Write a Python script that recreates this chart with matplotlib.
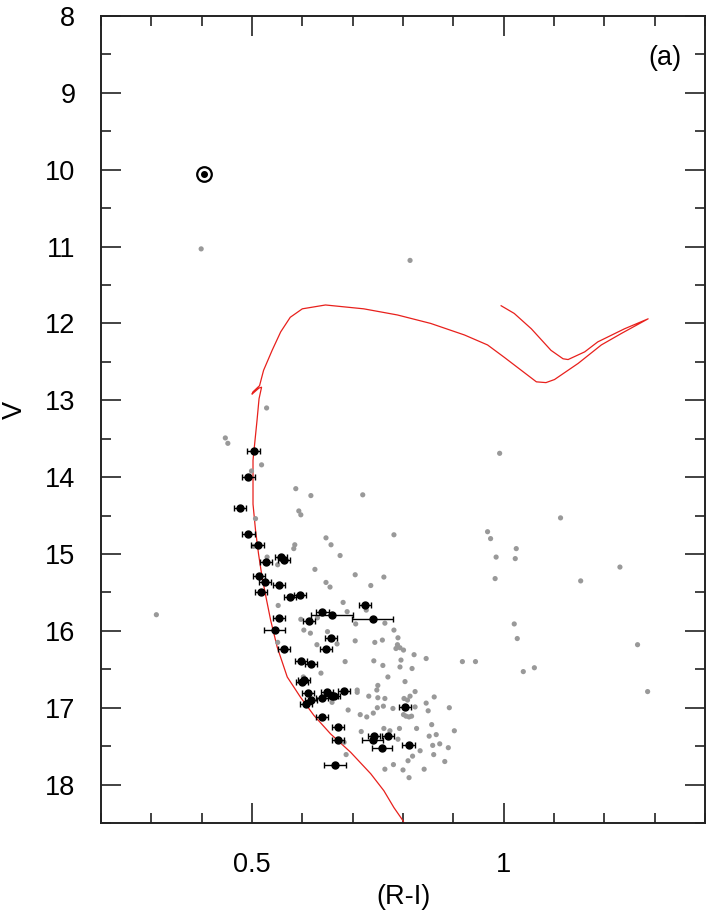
import matplotlib
matplotlib.use("Agg")
import matplotlib.pyplot as plt
from matplotlib.ticker import MultipleLocator

plt.rcParams['font.family'] = ['Liberation Sans', 'DejaVu Sans']

# Field / non-member stars (grey)
gray_ri = [0.399, 0.814, 0.310, 0.529, 0.447, 0.452, 0.519, 0.499, 0.587, 0.617,
           0.720, 0.593, 0.597, 0.507, 0.647, 0.782, 0.657, 0.585, 0.583, 0.503,
           0.675, 0.530, 0.551, 0.625, 0.705, 0.762, 0.647, 0.655, 0.736, 0.552,
           0.681, 0.689, 0.727, 0.630, 0.597, 0.706, 0.764, 0.782, 0.603, 0.616,
           0.650, 0.551, 0.629, 0.669, 0.705, 0.744, 0.759, 0.790, 0.789, 0.794,
           0.801, 0.786, 0.822, 0.796, 0.846, 0.685, 0.742, 0.760, 0.794, 0.818,
           0.637, 0.770, 0.602, 0.804, 0.750, 0.709, 0.709, 0.748, 0.824, 0.862,
           0.732, 0.750, 0.764, 0.802, 0.814, 0.809, 0.659, 0.749, 0.761, 0.780,
           0.824, 0.850, 0.892, 0.691, 0.715, 0.728, 0.741, 0.801, 0.806, 0.812,
           0.817, 0.857, 0.827, 0.762, 0.774, 0.717, 0.793, 0.852, 0.866, 0.790,
           0.683, 0.859, 0.873, 0.890, 0.834, 0.819, 0.861, 0.687, 0.883, 0.810,
           0.781, 0.764, 0.800, 0.842, 0.812, 0.902, 0.846, 0.992, 1.113, 0.968,
           0.974, 1.025, 0.985, 1.023, 1.231, 0.983, 1.153, 1.021, 1.027, 1.266,
           0.918, 0.944, 1.039, 1.061, 1.286]
gray_v = [11.03, 11.18, 15.79, 13.10, 13.49, 13.56, 13.84, 13.92, 14.15, 14.24,
          14.23, 14.44, 14.49, 14.54, 14.79, 14.75, 14.88, 14.88, 14.93, 14.90,
          15.02, 15.04, 15.14, 15.20, 15.27, 15.30, 15.37, 15.43, 15.41, 15.67,
          15.63, 15.75, 15.73, 15.83, 15.85, 15.91, 15.90, 15.99, 15.99, 16.03,
          16.01, 16.15, 16.18, 16.17, 16.13, 16.15, 16.12, 16.09, 16.18, 16.22,
          16.25, 16.23, 16.31, 16.38, 16.36, 16.40, 16.39, 16.45, 16.47, 16.49,
          16.55, 16.60, 16.60, 16.66, 16.71, 16.77, 16.80, 16.77, 16.79, 16.86,
          16.85, 16.87, 16.88, 16.88, 16.85, 16.90, 16.93, 17.00, 16.98, 17.01,
          16.99, 17.04, 17.00, 17.03, 17.09, 17.12, 17.07, 17.09, 17.11, 17.12,
          17.11, 17.22, 17.27, 17.27, 17.30, 17.31, 17.27, 17.37, 17.35, 17.41,
          17.45, 17.49, 17.47, 17.52, 17.56, 17.63, 17.61, 17.61, 17.70, 17.69,
          17.74, 17.80, 17.81, 17.80, 17.91, 17.30, 16.94, 13.69, 14.53, 14.71,
          14.80, 14.93, 15.04, 15.06, 15.17, 15.32, 15.35, 15.91, 16.10, 16.18,
          16.40, 16.40, 16.53, 16.48, 16.79]

# Member stars (black, with (R-I) errors)
mem_ri = [0.503, 0.493, 0.477, 0.493, 0.511, 0.558, 0.563, 0.527, 0.513, 0.525,
          0.553, 0.517, 0.575, 0.595, 0.724, 0.640, 0.659, 0.740, 0.553, 0.613,
          0.545, 0.657, 0.647, 0.563, 0.597, 0.618, 0.599, 0.603, 0.683, 0.611,
          0.649, 0.639, 0.658, 0.662, 0.618, 0.608, 0.804, 0.639, 0.671, 0.670,
          0.742, 0.771, 0.740, 0.759, 0.811, 0.665]
mem_v = [13.66, 14.00, 14.40, 14.74, 14.88, 15.04, 15.08, 15.10, 15.29, 15.37,
         15.40, 15.50, 15.56, 15.53, 15.67, 15.76, 15.79, 15.84, 15.83, 15.87,
         15.99, 16.09, 16.23, 16.24, 16.39, 16.43, 16.66, 16.64, 16.78, 16.81,
         16.79, 16.87, 16.85, 16.85, 16.90, 16.95, 16.99, 17.12, 17.25, 17.42,
         17.37, 17.37, 17.42, 17.52, 17.48, 17.74]
mem_err = [0.012, 0.012, 0.012, 0.012, 0.012, 0.012, 0.012, 0.012, 0.012, 0.012,
           0.012, 0.012, 0.012, 0.012, 0.012, 0.012, 0.041, 0.041, 0.012, 0.012,
           0.021, 0.012, 0.012, 0.012, 0.012, 0.012, 0.012, 0.012, 0.012, 0.012,
           0.012, 0.012, 0.012, 0.012, 0.012, 0.012, 0.012, 0.012, 0.012, 0.012,
           0.012, 0.012, 0.021, 0.020, 0.012, 0.021]

# Sun symbol star
sun_ri = [0.404]
sun_v = [10.05]

# Isochrone
iso_ri = [0.805, 0.800, 0.782, 0.762, 0.736, 0.696, 0.656, 0.623, 0.596, 0.570,
          0.550, 0.537, 0.529, 0.520, 0.513, 0.507, 0.502, 0.502, 0.510, 0.514,
          0.519, 0.514, 0.500, 0.502, 0.515, 0.523, 0.540, 0.557, 0.576, 0.600,
          0.646, 0.722, 0.789, 0.855, 0.922, 0.968, 1.001, 1.035, 1.065, 1.084,
          1.101, 1.148, 1.194, 1.234, 1.287, 1.240, 1.187, 1.161, 1.128, 1.118,
          1.094, 1.055, 1.021, 0.995]
iso_v = [18.55, 18.47, 18.30, 18.08, 17.86, 17.58, 17.34, 17.10, 16.86, 16.60,
         16.21, 15.86, 15.60, 15.30, 15.00, 14.69, 14.35, 13.78, 13.26, 12.98,
         12.83, 12.84, 12.92, 12.89, 12.81, 12.61, 12.35, 12.11, 11.92, 11.81,
         11.76, 11.81, 11.89, 12.00, 12.15, 12.28, 12.44, 12.61, 12.76, 12.77,
         12.73, 12.52, 12.28, 12.13, 11.94, 12.07, 12.24, 12.37, 12.47, 12.46,
         12.35, 12.07, 11.87, 11.77]

fig = plt.figure(figsize=(7.06, 9.13), dpi=100)
ax = fig.add_axes([101/706, 1 - 823/913, 604/706, 807/913])

ax.plot(iso_ri, iso_v, color='#e8201c', lw=0.9, zorder=2)
ax.scatter(gray_ri, gray_v, s=14, color='#999999', edgecolors='none', zorder=3)
ax.errorbar(mem_ri, mem_v, xerr=mem_err, fmt='o', color='black', ms=5,
            elinewidth=1.0, capsize=2, capthick=1.0, zorder=4)
ax.plot(sun_ri, sun_v, 'o', ms=10.5, mfc='white', mec='black', mew=1.6, zorder=5)
ax.plot(sun_ri, sun_v, 'o', ms=4, color='black', zorder=6)

ax.set_xlim(0.2, 1.4)
ax.set_ylim(18.5, 8)

ax.xaxis.set_major_locator(MultipleLocator(0.5))
ax.xaxis.set_minor_locator(MultipleLocator(0.1))
ax.yaxis.set_major_locator(MultipleLocator(1))
ax.yaxis.set_minor_locator(MultipleLocator(0.5))
ax.set_xticks([0.5, 1.0])
ax.set_xticklabels(['0.5', '1'])

ax.tick_params(which='both', direction='in', top=True, right=True, color='#222222', width=1.2)
ax.tick_params(which='major', length=14.5)
ax.tick_params(which='minor', length=7.2)
ax.tick_params(axis='y', which='major', labelsize=19.5, pad=18.5)
ax.tick_params(axis='x', which='major', labelsize=19.5, pad=21)

for s in ax.spines.values():
    s.set_linewidth(1.4)
    s.set_color('#222222')

ax.set_xlabel('(R-I)', fontsize=19.5, va='center')
ax.xaxis.set_label_coords(0.5, -0.0917)
ax.set_ylabel('V', fontsize=19.5, va='center')
ax.yaxis.set_label_coords(-0.142, 0.512)
ax.text(0.934, 0.948, '(a)', transform=ax.transAxes, fontsize=19.5, ha='center', va='center')

fig.savefig('out.png', dpi=100)
